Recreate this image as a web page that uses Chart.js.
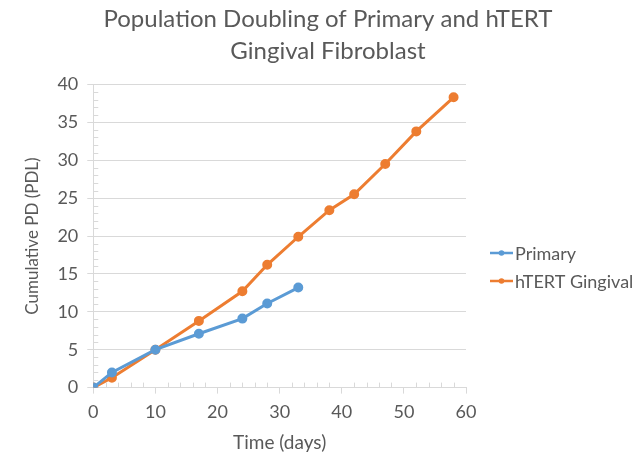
<!DOCTYPE html>
<html>
<head>
<meta charset="utf-8">
<script src="https://cdn.jsdelivr.net/npm/chart.js@4"></script>
<style>
  html, body { margin: 0; padding: 0; background: #fff; }
  #wrap { width: 638px; height: 454px; }
</style>
</head>
<body>
<div id="wrap"><canvas id="chart"></canvas></div>
<script>
// === DATOS ===
const primaryDays = [0, 3, 10, 17, 24, 28, 33];
const primaryPD = [0, 2.0, 5.0, 7.1, 9.1, 11.1, 13.2];
const htertDays = [0, 3, 10, 17, 24, 28, 33, 38, 42, 47, 52, 58];
const htertPD = [0, 1.3, 5.0, 8.8, 12.7, 16.2, 19.9, 23.4, 25.5, 29.5, 33.8, 38.3];
const seriesNames = ["Primary", "hTERT Gingival"];
const seriesColors = ["#5B9BD5", "#ED7D31"];

const textColor = "#595959";
const gridColor = "#d9d9d9";
const fontFam = "Lato, 'Open Sans', sans-serif";

function toPoints(xs, ys) {
  return xs.map((x, i) => ({ x: x, y: ys[i] }));
}

// marcas menores dentro del área + leyenda a la derecha
const extrasPlugin = {
  id: "extras",
  afterDraw(chart) {
    const ctx = chart.ctx;
    const xs = chart.scales.x, ys = chart.scales.y;
    ctx.save();
    ctx.strokeStyle = gridColor;
    ctx.lineWidth = 1;
    ctx.beginPath();
    for (let v = 1; v < 40; v++) {
      if (v % 5 === 0) continue;
      const py = Math.round(ys.getPixelForValue(v)) + 0.5;
      ctx.moveTo(xs.left, py);
      ctx.lineTo(xs.left + 5, py);
    }
    for (let v = 2; v < 60; v += 2) {
      if (v % 10 === 0) continue;
      const px = Math.round(xs.getPixelForValue(v)) + 0.5;
      ctx.moveTo(px, ys.bottom);
      ctx.lineTo(px, ys.bottom - 5);
    }
    ctx.stroke();

    // leyenda
    const lx = 490, ly = [253, 281];
    chart.data.datasets.forEach((ds, i) => {
      ctx.strokeStyle = ds.borderColor;
      ctx.fillStyle = ds.borderColor;
      ctx.lineWidth = 2.5;
      ctx.beginPath();
      ctx.moveTo(lx, ly[i]);
      ctx.lineTo(lx + 23, ly[i]);
      ctx.stroke();
      ctx.beginPath();
      ctx.arc(lx + 11.5, ly[i], 2.8, 0, Math.PI * 2);
      ctx.fill();
      ctx.fillStyle = textColor;
      ctx.font = "18px " + fontFam;
      ctx.textBaseline = "middle";
      ctx.textAlign = "left";
      ctx.fillText(ds.label, lx + 25, ly[i] + 1);
    });
    ctx.restore();
  }
};

new Chart(document.getElementById("chart"), {
  type: "line",
  data: {
    datasets: [
      {
        label: seriesNames[0],
        data: toPoints(primaryDays, primaryPD),
        borderColor: seriesColors[0],
        backgroundColor: seriesColors[0],
        borderWidth: 3,
        pointRadius: 3.5,
        tension: 0,
      },
      {
        label: seriesNames[1],
        data: toPoints(htertDays, htertPD),
        borderColor: seriesColors[1],
        backgroundColor: seriesColors[1],
        borderWidth: 3,
        pointRadius: 3.5,
        tension: 0,
      },
    ],
  },
  options: {
    responsive: true,
    maintainAspectRatio: false,
    animation: false,
    layout: { padding: { left: 18, right: 0, top: 2, bottom: 0 } },
    plugins: {
      legend: { display: false },
      tooltip: { enabled: false },
      title: {
        display: true,
        text: ["Population Doubling of Primary and hTERT", "Gingival Fibroblast"],
        color: textColor,
        font: { family: fontFam, size: 24, weight: "normal", lineHeight: 1.3 },
        padding: { top: 2, bottom: 18 },
      },
    },
    scales: {
      x: {
        type: "linear",
        min: 0,
        max: 60,
        border: { color: gridColor },
        grid: { drawOnChartArea: false, tickLength: 6, color: gridColor },
        ticks: { stepSize: 10, color: textColor, font: { family: fontFam, size: 18 }, padding: 8 },
        title: { display: true, text: "Time (days)", color: textColor, font: { family: fontFam, size: 19 }, padding: { top: 0, bottom: 0 } },
      },
      y: {
        min: 0,
        max: 40,
        border: { color: gridColor },
        grid: { color: gridColor, tickLength: 6 },
        ticks: { stepSize: 5, color: textColor, font: { family: fontFam, size: 18 }, padding: 9 },
        title: { display: true, text: "Cumulative PD (PDL)", color: textColor, font: { family: fontFam, size: 17 }, padding: { bottom: 6 } },
      },
      // espacio reservado para la leyenda
      legendSpace: {
        position: "right",
        display: true,
        grid: { display: false },
        border: { display: false },
        ticks: { display: false },
        afterFit(scale) { scale.width = 172; },
      },
    },
  },
  plugins: [extrasPlugin],
});
</script>
</body>
</html>
